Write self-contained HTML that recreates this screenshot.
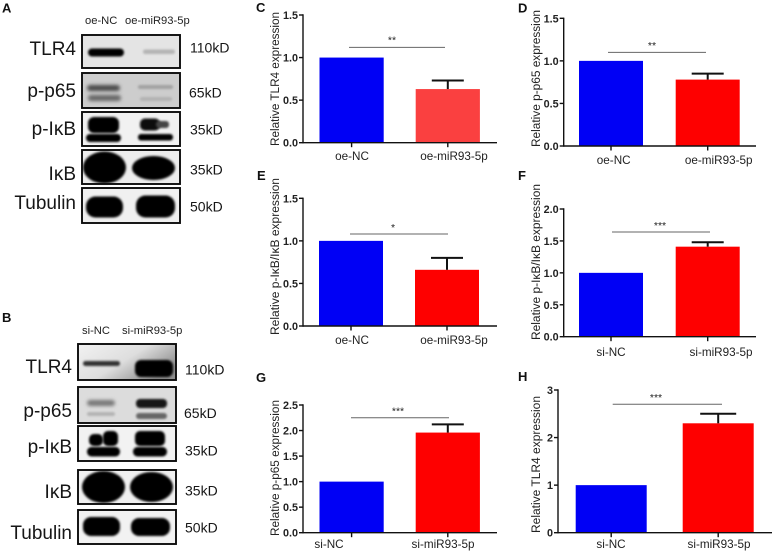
<!DOCTYPE html>
<html lang="en">
<head>
<meta charset="utf-8">
<title>Western blots and relative expression bar charts</title>
<style>
html,body{margin:0;padding:0;background:#fff;}
svg{display:block;font-family:"Liberation Sans",sans-serif;}
.lab{font-size:19px;fill:#161616;text-anchor:end;}
.kd{font-size:14px;fill:#161616;}
.hdr{font-size:11.2px;fill:#222;}
.pl{font-size:13px;font-weight:bold;fill:#111;}
.frame{fill:none;stroke:#0c0c0c;stroke-width:1.9;}
</style>
</head>
<body>
<svg id="figure" xmlns="http://www.w3.org/2000/svg" width="774" height="554" viewBox="0 0 774 554">
<defs>
<filter id="b1" x="-30%" y="-60%" width="160%" height="220%"><feGaussianBlur stdDeviation="1"/></filter>
<filter id="b2" x="-30%" y="-60%" width="160%" height="220%"><feGaussianBlur stdDeviation="1.8"/></filter>
<linearGradient id="smear" x1="0" y1="0" x2="1" y2="0.6"><stop offset="0" stop-color="#f2f2f2"/><stop offset="0.55" stop-color="#dedede"/><stop offset="1" stop-color="#8e8e8e"/></linearGradient>
</defs>
<rect width="774" height="554" fill="#fff"/>

<!-- Panel A -->
<g>
<text class="pl" x="2" y="12.5">A</text>
<text class="hdr" x="85" y="24">oe-NC</text>
<text class="hdr" x="125" y="24">oe-miR93-5p</text>

<g>
<rect x="82" y="35" width="98" height="33" fill="#e4e4e4"/>
<rect x="88" y="48.5" width="36" height="8" rx="4" fill="#050505" filter="url(#b1)"/>
<rect x="143" y="49.5" width="32" height="4.5" rx="2.2" fill="#b4b4b4" filter="url(#b1)"/>
<rect x="82" y="35" width="98" height="33" class="frame"/>
</g>
<g>
<rect x="82" y="73" width="98" height="35" fill="#cdcdcd"/>
<rect x="87" y="85" width="33" height="6" rx="3" fill="#4a4a4a" filter="url(#b2)"/>
<rect x="88" y="95" width="33" height="6" rx="3" fill="#666" filter="url(#b2)"/>
<rect x="138" y="85" width="35" height="4" rx="2" fill="#a2a2a2" filter="url(#b1)"/>
<rect x="140" y="97" width="32" height="4" rx="2" fill="#b2b2b2" filter="url(#b1)"/>
<rect x="82" y="73" width="98" height="35" class="frame"/>
</g>
<g>
<rect x="82" y="112" width="98" height="34" fill="#f1f1f1"/>
<rect x="88" y="117" width="31" height="16" rx="6" fill="#050505" filter="url(#b1)"/>
<rect x="86" y="134" width="35" height="8" rx="4" fill="#050505" filter="url(#b1)"/>
<rect x="140" y="118.5" width="20" height="12" rx="5" fill="#080808" filter="url(#b1)"/>
<rect x="156" y="121" width="13" height="7" rx="3" fill="#444" filter="url(#b1)"/>
<rect x="138" y="134" width="35" height="6.5" rx="3" fill="#050505" filter="url(#b1)"/>
<rect x="82" y="112" width="98" height="34" class="frame"/>
</g>
<g>
<rect x="82" y="150" width="98" height="34" fill="#ededed"/>
<ellipse cx="104.5" cy="167.5" rx="21.5" ry="16" fill="#030303" filter="url(#b1)"/>
<ellipse cx="153.5" cy="168" rx="21.5" ry="12" fill="#030303" filter="url(#b1)"/>
<rect x="82" y="150" width="98" height="34" class="frame"/>
</g>
<g>
<rect x="82" y="188" width="98" height="35" fill="#f0f0f0"/>
<rect x="86" y="196.5" width="37" height="21" rx="9.5" fill="#030303" filter="url(#b1)"/>
<rect x="136" y="195.5" width="39" height="22" rx="9.5" fill="#030303" filter="url(#b1)"/>
<rect x="82" y="188" width="98" height="35" class="frame"/>
</g>

<text class="lab" x="76" y="55">TLR4</text>
<text class="lab" x="76" y="97">p-p65</text>
<text class="lab" x="76" y="135">p-IκB</text>
<text class="lab" x="76" y="180">IκB</text>
<text class="lab" x="76" y="209">Tubulin</text>
<text class="kd" x="190" y="52.5">110kD</text>
<text class="kd" x="189" y="97.5">65kD</text>
<text class="kd" x="190" y="134.5">35kD</text>
<text class="kd" x="190" y="174.5">35kD</text>
<text class="kd" x="190" y="211.5">50kD</text>
</g>

<!-- Panel B -->
<g>
<text class="pl" x="2" y="322">B</text>
<text class="hdr" x="82" y="334">si-NC</text>
<text class="hdr" x="122" y="334">si-miR93-5p</text>

<g>
<rect x="78" y="344" width="98" height="36" fill="url(#smear)"/>
<rect x="83" y="361" width="37" height="5" rx="2.5" fill="#333" filter="url(#b1)"/>
<rect x="135" y="360" width="38" height="17" rx="6" fill="#050505" filter="url(#b1)"/>
<rect x="78" y="344" width="98" height="36" class="frame"/>
</g>
<g>
<rect x="78" y="387" width="98" height="36" fill="#dcdcdc"/>
<rect x="87" y="400" width="28" height="6" rx="3" fill="#777" filter="url(#b2)"/>
<rect x="87" y="412" width="28" height="4" rx="2" fill="#b4b4b4" filter="url(#b1)"/>
<rect x="136" y="399" width="31" height="9" rx="4" fill="#161616" filter="url(#b1)"/>
<rect x="136" y="413" width="31" height="6" rx="3" fill="#666" filter="url(#b1)"/>
<rect x="78" y="387" width="98" height="36" class="frame"/>
</g>
<g>
<rect x="78" y="426" width="98" height="35" fill="#f2f2f2"/>
<rect x="89" y="434" width="14" height="12" rx="5" fill="#050505" filter="url(#b1)"/>
<rect x="103" y="431" width="15" height="15" rx="5" fill="#050505" filter="url(#b1)"/>
<rect x="87" y="447" width="33" height="9.5" rx="4.5" fill="#050505" filter="url(#b1)"/>
<rect x="135" y="431" width="30" height="15" rx="5" fill="#050505" filter="url(#b1)"/>
<rect x="133" y="447" width="34" height="9.5" rx="4.5" fill="#050505" filter="url(#b1)"/>
<rect x="78" y="426" width="98" height="35" class="frame"/>
</g>
<g>
<rect x="78" y="470" width="98" height="34" fill="#f0f0f0"/>
<ellipse cx="103.5" cy="487" rx="21.5" ry="16" fill="#030303" filter="url(#b1)"/>
<ellipse cx="151.5" cy="487" rx="21.5" ry="15" fill="#030303" filter="url(#b1)"/>
<rect x="78" y="470" width="98" height="34" class="frame"/>
</g>
<g>
<rect x="78" y="510" width="98" height="34" fill="#f2f2f2"/>
<rect x="83" y="517" width="37" height="19" rx="8" fill="#030303" filter="url(#b1)"/>
<rect x="131" y="518" width="39" height="18" rx="8" fill="#030303" filter="url(#b1)"/>
<rect x="78" y="510" width="98" height="34" class="frame"/>
</g>

<text class="lab" x="72" y="373">TLR4</text>
<text class="lab" x="72" y="417">p-p65</text>
<text class="lab" x="72" y="453">p-IκB</text>
<text class="lab" x="72" y="498">IκB</text>
<text class="lab" x="72" y="539">Tubulin</text>
<text class="kd" x="185" y="374.5">110kD</text>
<text class="kd" x="184" y="418">65kD</text>
<text class="kd" x="185" y="455.5">35kD</text>
<text class="kd" x="185" y="495.5">35kD</text>
<text class="kd" x="185" y="532.5">50kD</text>
</g>

<g id="charts"></g>
</svg>

<script>
// Chart data
const oeCategories = ['oe-NC', 'oe-miR93-5p'];
const siCategories = ['si-NC', 'si-miR93-5p'];

const ticksOneFive = ['0.0', '0.5', '1.0', '1.5'];
const ticksTwo = ['0.0', '0.5', '1.0', '1.5', '2.0'];
const ticksTwoFive = ['0.0', '0.5', '1.0', '1.5', '2.0', '2.5'];
const ticksThree = ['0', '1', '2', '3'];

const valuesC = [1.0, 0.63];
const errorTopsC = [1.0, 0.73];
const significanceLevelC = 1.12;

const valuesD = [1.0, 0.78];
const errorTopsD = [1.0, 0.85];
const significanceLevelD = 1.10;

const valuesE = [1.0, 0.66];
const errorTopsE = [1.0, 0.80];
const significanceLevelE = 1.08;

const valuesF = [1.0, 1.41];
const errorTopsF = [1.0, 1.48];
const significanceLevelF = 1.64;

const valuesG = [1.0, 1.96];
const errorTopsG = [1.0, 2.12];
const significanceLevelG = 2.25;

const valuesH = [1.0, 2.30];
const errorTopsH = [1.0, 2.50];
const significanceLevelH = 2.70;

const SVG_NS = 'http://www.w3.org/2000/svg';
const chartsRoot = document.getElementById('charts');

function make(parent, tag, attrs, text) {
  const el = document.createElementNS(SVG_NS, tag);
  for (const k in attrs) el.setAttribute(k, attrs[k]);
  if (text !== undefined) el.textContent = text;
  parent.appendChild(el);
  return el;
}

function drawChart(c) {
  const p = c.key;
  const group = make(chartsRoot, 'g', {});
  
  

  const yMax = parseFloat(c.ticks[c.ticks.length - 1]);
  const yScale = v => c.y0 - (v / yMax) * (c.y0 - c.yTop);

  const letter = make(group, 'text', { x: c.letterX, y: c.letterY, 'font-size': 13, 'font-weight': 'bold', fill: '#111' }, p.toUpperCase());
  
  

  c.values.forEach((v, i) => {
    const bar = make(group, 'rect', {
      x: c.barX[i], y: yScale(v), width: c.barW, height: c.y0 - yScale(v),
      fill: i === 0 ? '#0000f5' : c.red
    });
    
    

    const mid = c.barX[i] + c.barW / 2;
    if (c.errorTops[i] > v) {
      const stem = make(group, 'line', { x1: mid, x2: mid, y1: yScale(v), y2: yScale(c.errorTops[i]), stroke: '#111', 'stroke-width': 2 });
      
      
      const cap = make(group, 'line', { x1: mid - c.capW / 2, x2: mid + c.capW / 2, y1: yScale(c.errorTops[i]), y2: yScale(c.errorTops[i]), stroke: '#111', 'stroke-width': 2 });
      
      
    }

    const tick = make(group, 'line', { x1: mid, x2: mid, y1: c.y0, y2: c.y0 + 4.5, stroke: '#111', 'stroke-width': 1.4 });
    
    

    const label = make(group, 'text', { x: c.labelX[i], y: c.labelY, 'font-size': 11.7, fill: '#222', 'text-anchor': 'middle' }, c.categories[i]);
    
    
  });

  const yAxis = make(group, 'line', { x1: c.axisX, x2: c.axisX, y1: c.yTop - 0.7, y2: c.y0 + 0.7, stroke: '#111', 'stroke-width': 1.4 });
  
  
  const xAxis = make(group, 'line', { x1: c.axisX, x2: c.axisEnd, y1: c.y0, y2: c.y0, stroke: '#111', 'stroke-width': 1.4 });
  
  

  c.ticks.forEach(t => {
    const y = yScale(parseFloat(t));
    const tick = make(group, 'line', { x1: c.axisX - 4, x2: c.axisX, y1: y, y2: y, stroke: '#111', 'stroke-width': 1.4 });
    
    
    const label = make(group, 'text', { x: c.axisX - 5, y: y + 4, 'font-size': 10.8, 'font-weight': 'bold', fill: '#222', 'text-anchor': 'end' }, t);
    
    
  });

  const title = make(group, 'text', {
    transform: 'translate(' + c.titleX + ',' + c.titleBottom + ') rotate(-90)',
    'font-size': 12.4, fill: '#222', textLength: c.titleLength, lengthAdjust: 'spacingAndGlyphs'
  }, c.title);
  
  

  const sigY = yScale(c.sigLevel);
  const sig = make(group, 'line', { x1: c.sigX[0], x2: c.sigX[1], y1: sigY, y2: sigY, stroke: '#666', 'stroke-width': 1 });
  
  
  const stars = make(group, 'text', { x: c.starX, y: sigY - c.starGap, 'font-size': 10.5, fill: '#222', 'text-anchor': 'middle' }, c.stars);
  
  
}

drawChart({ key: 'c', title: 'Relative TLR4 expression', categories: oeCategories, ticks: ticksOneFive,
  values: valuesC, errorTops: errorTopsC, sigLevel: significanceLevelC, stars: '**', red: '#fa4040',
  axisX: 303, axisEnd: 497, y0: 142.7, yTop: 15, barX: [319.5, 415.7], barW: 64.2, capW: 32,
  labelX: [352, 454], labelY: 160, titleX: 279, titleBottom: 146, titleLength: 134, sigX: [349, 445], starX: 392, starGap: 4,
  letterX: 256, letterY: 12 });

drawChart({ key: 'd', title: 'Relative p-p65 expression', categories: oeCategories, ticks: ticksOneFive,
  values: valuesD, errorTops: errorTopsD, sigLevel: significanceLevelD, stars: '**', red: '#fe0000',
  axisX: 563.7, axisEnd: 756, y0: 146, yTop: 18.3, barX: [579, 675.7], barW: 64, capW: 32,
  labelX: [613.7, 718.7], labelY: 164, titleX: 540, titleBottom: 147, titleLength: 137, sigX: [608, 706], starX: 652, starGap: 3.5,
  letterX: 518, letterY: 12.5 });

drawChart({ key: 'e', title: 'Relative p-IκB/IκB expression', categories: oeCategories, ticks: ticksOneFive,
  values: valuesE, errorTops: errorTopsE, sigLevel: significanceLevelE, stars: '*', red: '#fe0000',
  axisX: 303, axisEnd: 497, y0: 326, yTop: 198.3, barX: [319, 415], barW: 64, capW: 32,
  labelX: [352, 454], labelY: 344, titleX: 279, titleBottom: 335, titleLength: 157, sigX: [350, 448], starX: 393, starGap: 3,
  letterX: 257, letterY: 180 });

drawChart({ key: 'f', title: 'Relative p-IκB/IκB expression', categories: siCategories, ticks: ticksTwo,
  values: valuesF, errorTops: errorTopsF, sigLevel: significanceLevelF, stars: '***', red: '#fe0000',
  axisX: 563.7, axisEnd: 756, y0: 336.7, yTop: 209, barX: [579, 675.7], barW: 64, capW: 32,
  labelX: [611, 721], labelY: 356, titleX: 540, titleBottom: 340, titleLength: 156, sigX: [612, 710], starX: 660, starGap: 3,
  letterX: 518, letterY: 180 });

drawChart({ key: 'g', title: 'Relative p-p65 expression', categories: siCategories, ticks: ticksTwoFive,
  values: valuesG, errorTops: errorTopsG, sigLevel: significanceLevelG, stars: '***', red: '#fe0000',
  axisX: 303, axisEnd: 497, y0: 532.7, yTop: 405, barX: [319.5, 415.7], barW: 64.2, capW: 32,
  labelX: [329, 443], labelY: 548, titleX: 279, titleBottom: 536, titleLength: 136, sigX: [351, 449], starX: 398, starGap: 3.5,
  letterX: 256, letterY: 382 });

drawChart({ key: 'h', title: 'Relative TLR4 expression', categories: siCategories, ticks: ticksThree,
  values: valuesH, errorTops: errorTopsH, sigLevel: significanceLevelH, stars: '***', red: '#fe0000',
  axisX: 558, axisEnd: 772, y0: 532.7, yTop: 390, barX: [575.7, 682.7], barW: 71, capW: 36,
  labelX: [611, 719], labelY: 548, titleX: 540, titleBottom: 533, titleLength: 137, sigX: [612.7, 722], starX: 656, starGap: 3.5,
  letterX: 518, letterY: 381 });
</script>
</body>
</html>
